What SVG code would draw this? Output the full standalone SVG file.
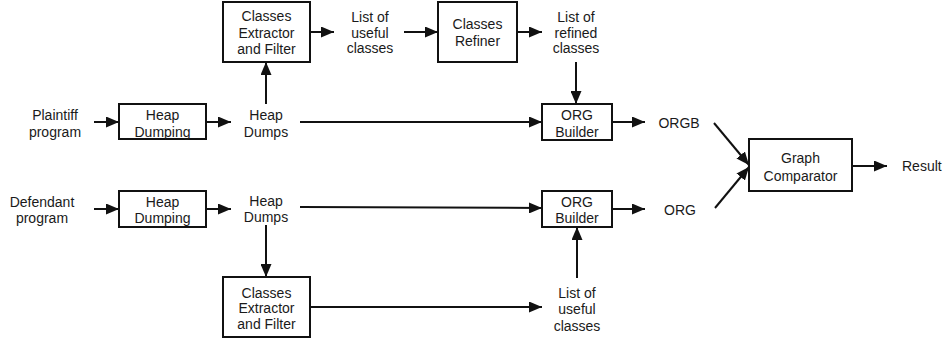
<svg xmlns="http://www.w3.org/2000/svg" width="945" height="342" viewBox="0 0 945 342">
<defs>
<marker id="ah" markerUnits="userSpaceOnUse" markerWidth="14" markerHeight="11" refX="13" refY="5.5" orient="auto">
<path d="M0,0 L13,5.5 L0,11 z" fill="#111"/>
</marker>
<style>
.box{fill:#fff;stroke:#111;stroke-width:2}
text{font-family:"Liberation Sans",Arial,sans-serif;font-size:14px;fill:#1a1a1a;text-anchor:middle}
.c{fill:none;stroke:#111;stroke-width:2;marker-end:url(#ah)}
.l{fill:none;stroke:#111;stroke-width:2}
</style>
</defs>
<rect width="945" height="342" fill="#fff"/>

<g id="connectors">
<line class="c" x1="94" y1="122" x2="119" y2="122"/>
<line class="c" x1="206" y1="122" x2="231" y2="122"/>
<line class="c" x1="266" y1="104" x2="266" y2="62"/>
<line class="c" x1="310" y1="32" x2="334" y2="32"/>
<line class="c" x1="404" y1="32" x2="438" y2="32"/>
<line class="c" x1="517" y1="32" x2="542" y2="32"/>
<line class="c" x1="576" y1="62" x2="576" y2="104"/>
<line class="c" x1="300" y1="122" x2="542" y2="122"/>
<line class="c" x1="612" y1="122" x2="645" y2="122"/>
<line class="c" x1="714" y1="123" x2="749" y2="165"/>
<line class="c" x1="715" y1="208" x2="749" y2="167"/>
<line class="c" x1="852" y1="166" x2="887" y2="166"/>
<line class="c" x1="94" y1="209" x2="119" y2="209"/>
<line class="c" x1="206" y1="209" x2="231" y2="209"/>
<line class="c" x1="300" y1="207" x2="542" y2="208"/>
<line class="c" x1="266" y1="225" x2="266" y2="277"/>
<line class="c" x1="310" y1="307" x2="542" y2="307"/>
<line class="c" x1="577" y1="278" x2="577" y2="227"/>
<line class="c" x1="612" y1="209" x2="645" y2="209"/>
</g>

<g id="plaintiff-program"><text x="55" y="119.5">Plaintiff</text><text x="55" y="136.5">program</text></g>
<g id="heap-dumping-1"><rect class="box" x="119" y="104" width="87" height="35"/><text x="162.5" y="119.5">Heap</text><text x="162.5" y="136.5">Dumping</text></g>
<g id="heap-dumps-1"><text x="266" y="119.5">Heap</text><text x="266" y="136.5">Dumps</text></g>
<g id="classes-extractor-1"><rect class="box" x="223" y="2" width="87" height="60"/><text x="266.5" y="21">Classes</text><text x="266.5" y="37.5">Extractor</text><text x="266.5" y="54">and Filter</text></g>
<g id="list-useful-1"><text x="370" y="21.5">List of</text><text x="370" y="37.5">useful</text><text x="370" y="53">classes</text></g>
<g id="classes-refiner"><rect class="box" x="438" y="2" width="79" height="60"/><text x="477.5" y="28.5">Classes</text><text x="477.5" y="45.5">Refiner</text></g>
<g id="list-refined"><text x="576" y="21.5">List of</text><text x="576" y="37.5">refined</text><text x="576" y="53">classes</text></g>
<g id="org-builder-1"><rect class="box" x="542" y="104" width="70" height="36"/><text x="577" y="119.5">ORG</text><text x="577" y="136.5">Builder</text></g>
<g id="orgb"><text x="679" y="127.5">ORGB</text></g>
<g id="graph-comparator"><rect class="box" x="749" y="139" width="103" height="52"/><text x="800.5" y="162.5">Graph</text><text x="800.5" y="180.5">Comparator</text></g>
<g id="result"><text x="902" y="170.5" style="text-anchor:start">Result</text></g>
<g id="org"><text x="680" y="214.5">ORG</text></g>

<g id="defendant-program"><text x="42" y="206.5">Defendant</text><text x="42" y="222.5">program</text></g>
<g id="heap-dumping-2"><rect class="box" x="119" y="191" width="87" height="36"/><text x="162.5" y="206.5">Heap</text><text x="162.5" y="222.5">Dumping</text></g>
<g id="heap-dumps-2"><text x="266" y="205.5">Heap</text><text x="266" y="221.5">Dumps</text></g>
<g id="org-builder-2"><rect class="box" x="542" y="191" width="70" height="36"/><text x="577" y="206.5">ORG</text><text x="577" y="222.5">Builder</text></g>
<g id="classes-extractor-2"><rect class="box" x="223" y="277" width="87" height="60"/><text x="266.5" y="297.5">Classes</text><text x="266.5" y="312.5">Extractor</text><text x="266.5" y="328.5">and Filter</text></g>
<g id="list-useful-2"><text x="577" y="297.5">List of</text><text x="577" y="314">useful</text><text x="577" y="330.5">classes</text></g>
</svg>
